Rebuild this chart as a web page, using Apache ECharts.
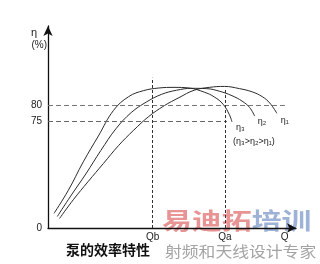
<!DOCTYPE html>
<html>
<head>
<meta charset="utf-8">
<script src="https://cdn.jsdelivr.net/npm/echarts@6/dist/echarts.min.js"></script>
<style>html,body{margin:0;padding:0;background:#fff;}#c{width:320px;height:264px;}</style>
</head>
<body>
<div id="c"></div>
<script>
// ---- data (x in flow units, y in efficiency %) ----
const title = '泵的效率特性';
const yTickValues = [41.5, 75, 80];
const yTickLabels = ['0', '75', '80'];
const xTickValues = [41.5, 70.2, 93.9];
const xTickLabels = ['Qb', 'Qa', 'Q'];
const seriesNames = ['η₃', 'η₂', 'η₁'];
const noteText = '(η₃>η₂>η₁)';

const eta3X = [2.4, 8, 14, 20, 26, 32, 38, 44, 50, 56, 62, 66, 69.5, 72, 73];
const eta3Y = [46.1, 53.2, 62.2, 70.3, 78.3, 82.6, 84.5, 85.3, 85.5, 85.3, 84.0, 82.5, 80.2, 76.9, 74.7];

const eta2X = [3.7, 9, 15, 21, 27, 33, 39, 45, 51, 57, 63, 68, 73, 77, 80, 82];
const eta2Y = [45.1, 51.5, 58.4, 65.8, 72.6, 77.6, 80.9, 83.3, 84.6, 85.2, 85.1, 84.3, 82.9, 81.2, 79.2, 76.5];

const eta1X = [4.6, 10, 16, 22, 28, 34, 40, 46, 52, 58, 64, 70, 76, 81, 85, 88, 90.8];
const eta1Y = [44.5, 50.3, 56.1, 61.7, 67.3, 72.1, 76.4, 79.7, 82.3, 84.6, 85.5, 85.8, 85.1, 84.1, 82.6, 80.6, 77.4];

// reference lines
const level80 = 80, level80End = 94;
const level75 = 75, level75End = 71;
const qb = 41.5, qbTop = 88.5;
const qa = 70.2, qaTop = 85.0;

const xMin = 0, xMax = 98.4;
const yMin = 41.5, yMax = 104.7;

// ---- chart ----
const font = "'Liberation Sans','DejaVu Sans',sans-serif";
const cjk = "'Noto Sans CJK SC',sans-serif";
const pts = (xs, ys) => xs.map((x, i) => [x, ys[i]]);
const lineColor = '#2b2b2b';

function curve(name, xs, ys, labelOpt) {
  return {
    type: 'line', name: name, data: pts(xs, ys), smooth: 0.4,
    showSymbol: false, silent: true, animation: false,
    lineStyle: { color: lineColor, width: 1 },
    emphasis: { disabled: true },
    endLabel: Object.assign({ show: true, color: '#222', fontFamily: font, fontSize: 9 }, labelOpt)
  };
}

const chart = echarts.init(document.getElementById('c'), null, { renderer: 'canvas' });
chart.setOption({
  animation: false,
  backgroundColor: '#fff',
  title: {
    text: title, left: 66, top: 243, padding: 0,
    textStyle: { fontSize: 14, fontWeight: 'bold', color: '#111', fontFamily: cjk }
  },
  grid: { left: 48, right: 24, top: 26, bottom: 36, containLabel: false, outerBoundsMode: 'none' },
  xAxis: {
    type: 'value', min: xMin, max: xMax,
    axisLine: { show: true, onZero: false, symbol: ['none', 'arrow'], symbolSize: [7, 9],
      lineStyle: { color: '#111', width: 1.3 } },
    axisTick: { show: false },
    splitLine: { show: false },
    axisLabel: {
      customValues: xTickValues, margin: 4, fontSize: 10, color: '#222', fontFamily: font,
      formatter: v => xTickLabels[xTickValues.indexOf(v)] ?? ''
    }
  },
  yAxis: {
    type: 'value', min: yMin, max: yMax,
    name: '{e|η}\n{p|(%)}', nameLocation: 'end', nameGap: -1,
    nameTextStyle: {
      align: 'right', verticalAlign: 'top', padding: [0, 1, 0, 0], color: '#222', fontFamily: font,
      rich: {
        e: { fontSize: 11, lineHeight: 12, padding: [0, 10, 0, 0], fontFamily: font, color: '#222' },
        p: { fontSize: 10, lineHeight: 12, fontFamily: font, color: '#222' }
      }
    },
    axisLine: { show: true, onZero: false, symbol: ['none', 'arrow'], symbolSize: [7, 10],
      lineStyle: { color: '#111', width: 1.3 } },
    axisTick: { show: false },
    splitLine: { show: false },
    axisLabel: {
      customValues: yTickValues, margin: 6, fontSize: 10, color: '#222', fontFamily: font,
      formatter: v => yTickLabels[yTickValues.indexOf(v)] ?? ''
    }
  },
  series: [
    curve(seriesNames[0], eta3X, eta3Y, {
      formatter: () => '{a|' + seriesNames[0] + '}\n{b|' + noteText + '}',
      distance: 1, offset: [0, 13], align: 'left',
      rich: {
        a: { fontSize: 9, lineHeight: 14, padding: [0, 0, 0, 3], fontFamily: font, color: '#222' },
        b: { fontSize: 9, lineHeight: 14, fontFamily: font, color: '#222' }
      }
    }),
    curve(seriesNames[1], eta2X, eta2Y, { formatter: () => seriesNames[1], distance: 3, offset: [0, 5] }),
    Object.assign(curve(seriesNames[2], eta1X, eta1Y, { formatter: () => seriesNames[2], distance: 4, offset: [0, 7] }), {
      markLine: {
        silent: true, symbol: ['none', 'none'], label: { show: false }, animation: false,
        emphasis: { disabled: true },
        data: [
          [{ coord: [xMin, level80], lineStyle: { color: '#777', type: [5, 3], width: 1 } }, { coord: [level80End, level80] }],
          [{ coord: [xMin, level75], lineStyle: { color: '#666', type: [5, 3], width: 1 } }, { coord: [level75End, level75] }],
          [{ coord: [qb, yMin], lineStyle: { color: '#333', type: [3, 2], width: 1 } }, { coord: [qb, qbTop] }],
          [{ coord: [qa, yMin], lineStyle: { color: '#333', type: [3, 2], width: 1 } }, { coord: [qa, qaTop] }]
        ]
      }
    })
  ],
  graphic: [
    {
      type: 'text', x: 162, y: 209, scaleX: 1.3, z: -10, silent: true,
      style: {
        text: '{r|易迪拓}{b|培训}', opacity: 0.9,
        rich: {
          r: { fontSize: 23, fontWeight: 'bold', fill: '#e58888', fontFamily: cjk },
          b: { fontSize: 23, fontWeight: 'bold', fill: '#93a9d2', fontFamily: cjk }
        }
      }
    },
    {
      type: 'text', x: 165, y: 244, scaleX: 1.12, z: -10, silent: true,
      style: { text: '射频和天线设计专家', fontSize: 15, fill: '#a3a3a3', fontFamily: cjk }
    }
  ]
});
</script>
</body>
</html>
